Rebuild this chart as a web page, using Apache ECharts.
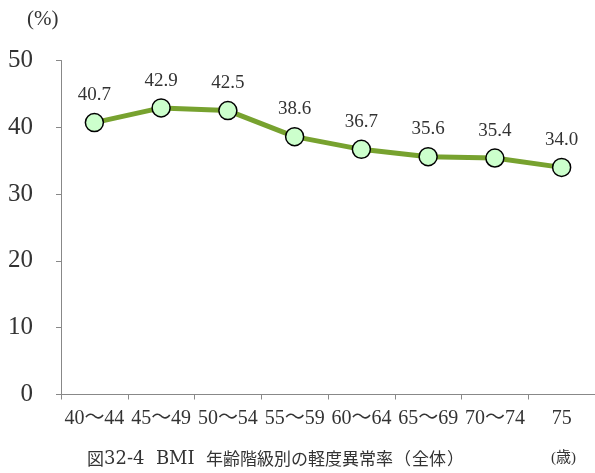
<!DOCTYPE html>
<html><head><meta charset="utf-8">
<script src="https://cdn.jsdelivr.net/npm/echarts@6/dist/echarts.min.js"></script>
<style>html,body{margin:0;padding:0;background:#fff}#c{width:595px;height:473px}</style>
</head><body><div id="c"></div>
<script>
const categories = ['40〜44','45〜49','50〜54','55〜59','60〜64','65〜69','70〜74','75'];
const values = [40.7, 42.9, 42.5, 38.6, 36.7, 35.6, 35.4, 34.0];
const yTicks = [0, 10, 20, 30, 40, 50];
const titleParts = ['図', '32-4', '  BMI  ', '年齢階級別の軽度異常率', '（', '全体', '）'];
const yUnit = '(%)';
const xUnit = '(歳)';
const serif = '"Liberation Serif","DejaVu Serif","Noto Sans CJK JP",serif';
const cjk = '"Noto Sans CJK JP",sans-serif';
const titleRich = '{k|' + titleParts[0] + '}{n|' + titleParts[1] + titleParts[2] + '}{k|' + titleParts[3] +
  '}{p|' + titleParts[4] + '}{k|' + titleParts[5] + '}{p|' + titleParts[6] + '}';
const chart = echarts.init(document.getElementById('c'));
chart.setOption({
  animation: false,
  backgroundColor: '#fff',
  grid: {left: 61, right: 0, top: 60.5, bottom: 78.5, containLabel: false},
  graphic: [
    {type: 'text', left: 27, top: 9, style: {text: yUnit, font: '21px ' + serif, fill: '#333'}},
    {type: 'text', left: 551, top: 451, style: {text: xUnit, font: '15px ' + serif, fill: '#333'}},
    {type: 'text', left: 87, top: 450, style: {
      text: titleRich, fill: '#333',
      rich: {
        k: {fontFamily: cjk, fontSize: 17, fill: '#333', lineHeight: 22},
        n: {fontFamily: '"DejaVu Serif",serif', fontSize: 18, fill: '#333', lineHeight: 22},
        p: {fontFamily: cjk, fontSize: 17, fill: '#333', lineHeight: 22, padding: [0, 1]}
      }
    }}
  ],
  xAxis: {
    type: 'category', data: categories, boundaryGap: true,
    axisLine: {lineStyle: {color: '#888', width: 1}},
    axisTick: {show: true, length: 5, lineStyle: {color: '#888'}},
    axisLabel: {color: '#333', fontSize: 20, fontFamily: serif, margin: 14, interval: 0}
  },
  yAxis: {
    type: 'value', min: yTicks[0], max: yTicks[yTicks.length - 1], interval: 10,
    axisLine: {show: true, lineStyle: {color: '#888', width: 1}},
    axisTick: {show: true, length: 5, lineStyle: {color: '#888'}},
    splitLine: {show: false},
    axisLabel: {color: '#333', fontSize: 25, fontFamily: serif, margin: 28}
  },
  series: [{
    type: 'line', data: values,
    lineStyle: {color: '#77a22f', width: 5},
    symbol: 'circle', symbolSize: 18,
    itemStyle: {color: '#ccffcc', borderColor: '#000', borderWidth: 1.5},
    label: {show: true, position: 'top', distance: 8, color: '#333', fontSize: 19, fontFamily: serif,
      formatter: p => p.value.toFixed(1)}
  }]
});
</script></body></html>
